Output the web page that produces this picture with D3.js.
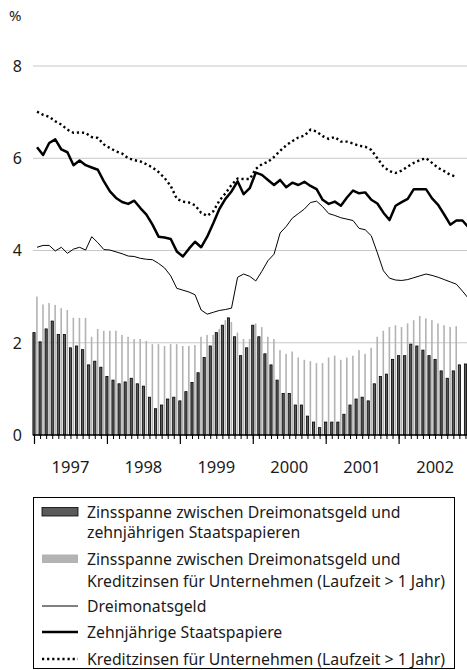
<!DOCTYPE html>
<html>
<head>
<meta charset="utf-8">
<script src="https://cdn.jsdelivr.net/npm/d3@7"></script>
<style>
  body { margin: 0; background: #fff; }
  svg { display: block; }
  text { font-family: "Noto Sans", sans-serif; fill: #1a1a1a; }
</style>
</head>
<body>
<svg id="container"></svg>
<script>
// monatswerte jan 1997 - dez 2002
const years = ["1997", "1998", "1999", "2000", "2001", "2002"];
const yTicks = [0, 2, 4, 6, 8];

// zinsspanne 3m / 10j (dunkle balken)
const spreadGov = [
  2.22, 2.02, 2.30, 2.47, 2.18, 2.18, 1.89, 1.93, 1.85, 1.52, 1.60, 1.47,
  1.27, 1.19, 1.11, 1.15, 1.23, 1.11, 1.06, 0.82, 0.57, 0.65, 0.78, 0.82,
  0.74, 0.94, 1.14, 1.35, 1.68, 1.93, 2.22, 2.38, 2.54, 2.13, 1.72, 1.89,
  2.38, 2.13, 1.76, 1.52, 1.19, 0.90, 0.90, 0.65, 0.65, 0.41, 0.28, 0.16,
  0.28, 0.28, 0.28, 0.45, 0.65, 0.78, 0.82, 0.74, 1.11, 1.27, 1.32, 1.64,
  1.72, 1.72, 1.97, 1.93, 1.84, 1.72, 1.64, 1.39, 1.23, 1.39, 1.52, 1.54
];
// zinsspanne 3m / kredite (hellgraue balken)
const spreadCredit = [
  3.00, 2.83, 2.86, 2.82, 2.75, 2.71, 2.54, 2.54, 2.54, 2.13, 2.30, 2.26,
  2.26, 2.26, 2.17, 2.13, 2.08, 2.08, 2.04, 1.97, 1.97, 1.93, 1.97, 1.97,
  1.93, 1.93, 1.95, 2.13, 2.17, 2.17, 2.30, 2.49, 2.45, 2.22, 2.08, 2.08,
  2.42, 2.34, 2.13, 2.08, 1.84, 1.76, 1.81, 1.68, 1.63, 1.60, 1.56, 1.56,
  1.68, 1.72, 1.63, 1.68, 1.72, 1.84, 1.76, 1.89, 2.13, 2.26, 2.34, 2.38,
  2.34, 2.42, 2.49, 2.58, 2.53, 2.49, 2.42, 2.38, 2.34, 2.36
];
const rate3m = [
  4.07, 4.11, 4.11, 3.99, 4.07, 3.94, 4.03, 4.07, 4.01, 4.30, 4.17, 4.02,
  4.01, 3.97, 3.93, 3.88, 3.87, 3.83, 3.81, 3.80, 3.72, 3.62, 3.45, 3.18,
  3.14, 3.10, 3.04, 2.71, 2.62, 2.66, 2.70, 2.72, 2.75, 3.42, 3.49, 3.44,
  3.34, 3.55, 3.78, 3.92, 4.38, 4.52, 4.70, 4.80, 4.90, 5.04, 5.07, 4.95,
  4.80, 4.76, 4.71, 4.68, 4.65, 4.48, 4.45, 4.32, 3.95, 3.56, 3.40, 3.36,
  3.35, 3.37, 3.41, 3.45, 3.49, 3.46, 3.42, 3.37, 3.32, 3.27, 3.12, 2.96
];
const rate10y = [
  6.24, 6.07, 6.33, 6.41, 6.19, 6.13, 5.85, 5.95, 5.85, 5.80, 5.75, 5.50,
  5.28, 5.14, 5.05, 5.01, 5.08, 4.92, 4.78, 4.56, 4.30, 4.28, 4.25, 3.98,
  3.87, 4.04, 4.19, 4.07, 4.30, 4.59, 4.90, 5.12, 5.28, 5.50, 5.22, 5.35,
  5.69, 5.64, 5.53, 5.42, 5.53, 5.37, 5.47, 5.42, 5.49, 5.40, 5.33, 5.10,
  5.01, 5.06, 4.97, 5.15, 5.30, 5.24, 5.26, 5.10, 5.02, 4.82, 4.66, 4.97,
  5.05, 5.12, 5.33, 5.33, 5.33, 5.13, 4.99, 4.78, 4.56, 4.65, 4.65, 4.50
];
const rateCredit = [
  7.01, 6.94, 6.90, 6.80, 6.73, 6.62, 6.55, 6.56, 6.55, 6.46, 6.44, 6.30,
  6.22, 6.15, 6.10, 6.00, 5.96, 5.93, 5.87, 5.80, 5.70, 5.57, 5.40, 5.12,
  5.06, 5.04, 4.98, 4.82, 4.75, 4.85, 5.08, 5.24, 5.42, 5.56, 5.55, 5.55,
  5.77, 5.87, 5.92, 6.03, 6.16, 6.28, 6.37, 6.45, 6.49, 6.62, 6.58, 6.48,
  6.42, 6.46, 6.36, 6.36, 6.32, 6.27, 6.25, 6.18, 6.00, 5.82, 5.72, 5.68,
  5.73, 5.82, 5.90, 5.96, 6.00, 5.90, 5.79, 5.72, 5.64, 5.60
];

const legendItems = [
  { type: "dark", lines: ["Zinsspanne zwischen Dreimonatsgeld und", "zehnjährigen Staatspapieren"] },
  { type: "grey", lines: ["Zinsspanne zwischen Dreimonatsgeld und", "Kreditzinsen für Unternehmen (Laufzeit > 1 Jahr)"] },
  { type: "thin", lines: ["Dreimonatsgeld"] },
  { type: "thick", lines: ["Zehnjährige Staatspapiere"] },
  { type: "dotted", lines: ["Kreditzinsen für Unternehmen (Laufzeit > 1 Jahr)"] }
];

const width = 467, height = 670;
const svg = d3.select("#container").attr("width", width).attr("height", height);

const nMonths = 72;
const x = d3.scaleLinear().domain([0, nMonths]).range([34, 34 + 6.077 * nMonths]);
const y = d3.scaleLinear().domain([0, 8]).range([435, 66]);
const darkFill = "#5a5a5a", greyFill = "#b3b3b3";

// gitter
svg.append("g")
  .selectAll("line")
  .data(yTicks.filter(d => d > 0))
  .enter().append("line")
  .attr("x1", 33).attr("x2", width)
  .attr("y1", d => y(d)).attr("y2", d => y(d))
  .attr("stroke", "#c8c8c8").attr("stroke-width", 1);

// y-beschriftung
svg.append("g")
  .selectAll("text")
  .data(yTicks)
  .enter().append("text")
  .attr("x", 22).attr("y", d => y(d))
  .attr("dy", "0.36em")
  .attr("text-anchor", "end")
  .attr("font-size", 16)
  .text(d => d);

svg.append("text").attr("x", 9).attr("y", 21).attr("font-size", 15).text("%");

// balken
svg.append("g")
  .selectAll("rect")
  .data(spreadCredit)
  .enter().append("rect")
  .attr("x", (d, i) => x(i) + 2.1)
  .attr("width", 1.6)
  .attr("y", d => y(d))
  .attr("height", d => y(0) - y(d))
  .attr("fill", greyFill);

svg.append("g")
  .selectAll("rect")
  .data(spreadGov)
  .enter().append("rect")
  .attr("x", (d, i) => x(i) - 1.1)
  .attr("width", 2.2)
  .attr("y", d => y(d))
  .attr("height", d => y(0) - y(d))
  .attr("fill", darkFill)
  .attr("stroke", "#000")
  .attr("stroke-width", 0.8);

// linien
const line = d3.line().x((d, i) => x(i + 0.5)).y(d => y(d));
svg.append("path").datum(rate3m).attr("d", line)
  .attr("fill", "none").attr("stroke", "#000").attr("stroke-width", 1);
svg.append("path").datum(rate10y).attr("d", line)
  .attr("fill", "none").attr("stroke", "#000").attr("stroke-width", 2.5)
  .attr("stroke-linejoin", "round");
svg.append("path").datum(rateCredit).attr("d", line)
  .attr("fill", "none").attr("stroke", "#000").attr("stroke-width", 2.4)
  .attr("stroke-dasharray", "2.2,2.9");

// x-achse
const monthAxis = d3.axisBottom(x)
  .tickValues(d3.range(0, nMonths))
  .tickSize(4).tickFormat("");
const gx = svg.append("g").attr("transform", `translate(0,${y(0)})`).call(monthAxis);
gx.select(".domain").attr("d", `M33,0H${width}`).attr("stroke-width", 1.5);

const yearAxis = d3.axisBottom(x)
  .tickValues(d3.range(0, nMonths, 12))
  .tickSize(9).tickFormat("");
const gy = svg.append("g").attr("transform", `translate(0,${y(0)})`).call(yearAxis);
gy.select(".domain").remove();
gy.selectAll("line").attr("stroke-width", 1.2);

svg.append("g")
  .selectAll("text")
  .data(years)
  .enter().append("text")
  .attr("x", (d, i) => x(i * 12 + 6))
  .attr("y", 473)
  .attr("text-anchor", "middle")
  .attr("font-size", 16.5)
  .text(d => d);

// legende
const lg = svg.append("g");
lg.append("rect").attr("x", 33.5).attr("y", 497.5).attr("width", 421).attr("height", 171)
  .attr("fill", "none").attr("stroke", "#000").attr("stroke-width", 1);

const baselines = [[518, 538], [565, 587], [612], [638], [665]];
legendItems.forEach((item, k) => {
  const b = baselines[k];
  const cy = b[0] - 6;
  if (item.type === "dark" || item.type === "grey") {
    lg.append("rect").attr("x", 42).attr("y", cy - 4.5).attr("width", 36).attr("height", 8.5)
      .attr("fill", item.type === "dark" ? darkFill : greyFill)
      .attr("stroke", item.type === "dark" ? "#000" : "none").attr("stroke-width", 0.8);
  } else {
    lg.append("line").attr("x1", 42).attr("x2", 78).attr("y1", cy).attr("y2", cy)
      .attr("stroke", "#000")
      .attr("stroke-width", item.type === "thin" ? 1 : 2.4)
      .attr("stroke-dasharray", item.type === "dotted" ? "2.2,2.9" : null);
  }
  item.lines.forEach((t, j) => {
    lg.append("text").attr("x", 87).attr("y", b[j]).attr("font-size", 15.8).text(t);
  });
});
</script>
</body>
</html>
